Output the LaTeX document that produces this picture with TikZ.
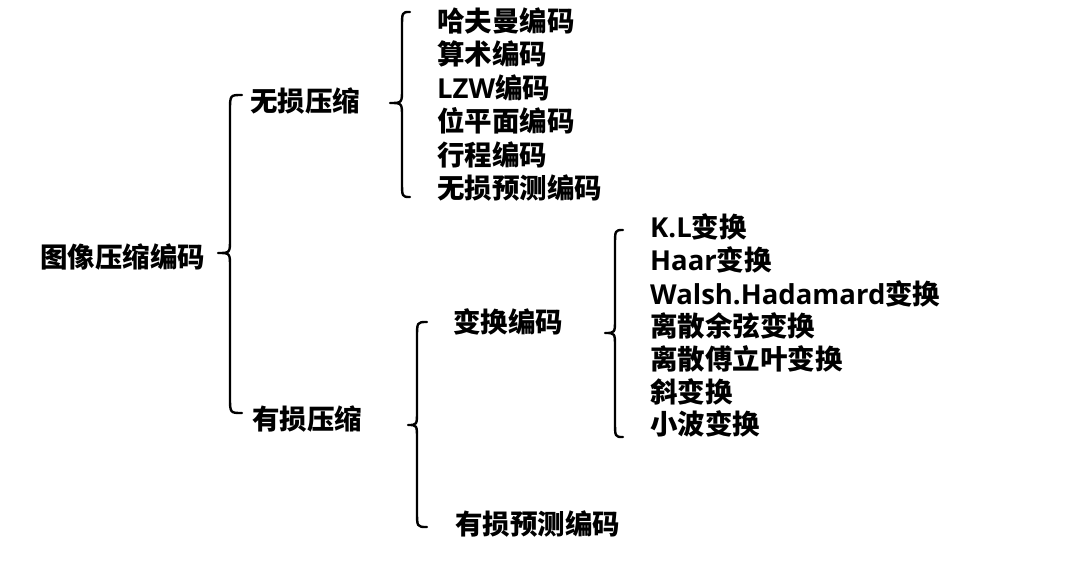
\documentclass[tikz,border=0pt]{standalone}
\usepackage{fontspec}
\setmainfont{Noto Sans CJK SC}
\newfontfamily\lat{Open Sans}
\begin{document}
\begin{tikzpicture}[x=1pt,y=-1pt,
  lbl/.style={anchor=west,inner sep=0pt,font=\fontsize{27.5}{30}\selectfont\bfseries,text height=21pt,text depth=0pt},
  brc/.style={line width=2.4pt,line cap=round,line join=round}]
\useasboundingbox (0,0) rectangle (1067,561);
% nodes
\node[lbl] (root) at (40,257) {图像压缩编码};
\node[lbl] (ll) at (250,101) {无损压缩};
\node[lbl] (ly) at (252,419) {有损压缩};
\node[lbl] (a1) at (437,21) {哈夫曼编码};
\node[lbl] (a2) at (437,54) {算术编码};
\node[lbl] (a3) at (437,88) {{\lat LZW}编码};
\node[lbl] (a4) at (437,121) {位平面编码};
\node[lbl] (a5) at (437,155) {行程编码};
\node[lbl] (a6) at (437,188) {无损预测编码};
\node[lbl] (tc) at (453,322) {变换编码};
\node[lbl] (pc) at (455,524) {有损预测编码};
\node[lbl] (b1) at (650,227) {{\lat K.L}变换};
\node[lbl] (b2) at (650,260) {{\lat Haar}变换};
\node[lbl] (b3) at (650,294) {{\lat Walsh.Hadamard}变换};
\node[lbl] (b4) at (650,326) {离散余弦变换};
\node[lbl] (b5) at (650,359) {离散傅立叶变换};
\node[lbl] (b6) at (650,392) {斜变换};
\node[lbl] (b7) at (650,424) {小波变换};
% braces: tip x, tip y, body x, end x, top y, bottom y
\newcommand{\mybrace}[6]{%
  \draw[brc] (#4,#5) .. controls (#3,#5) .. (#3,#5+16) -- (#3,#2-14)
    .. controls (#3,#2) .. (#1,#2) .. controls (#3,#2) .. (#3,#2+14)
    -- (#3,#6-16) .. controls (#3,#6) .. (#4,#6);}
\mybrace{218}{253}{230}{242}{95}{413}
\mybrace{390}{103}{402}{410}{12}{197}
\mybrace{408}{425}{417}{427}{322}{527}
\mybrace{605}{333}{615}{623}{230}{437}
\end{tikzpicture}
\end{document}
